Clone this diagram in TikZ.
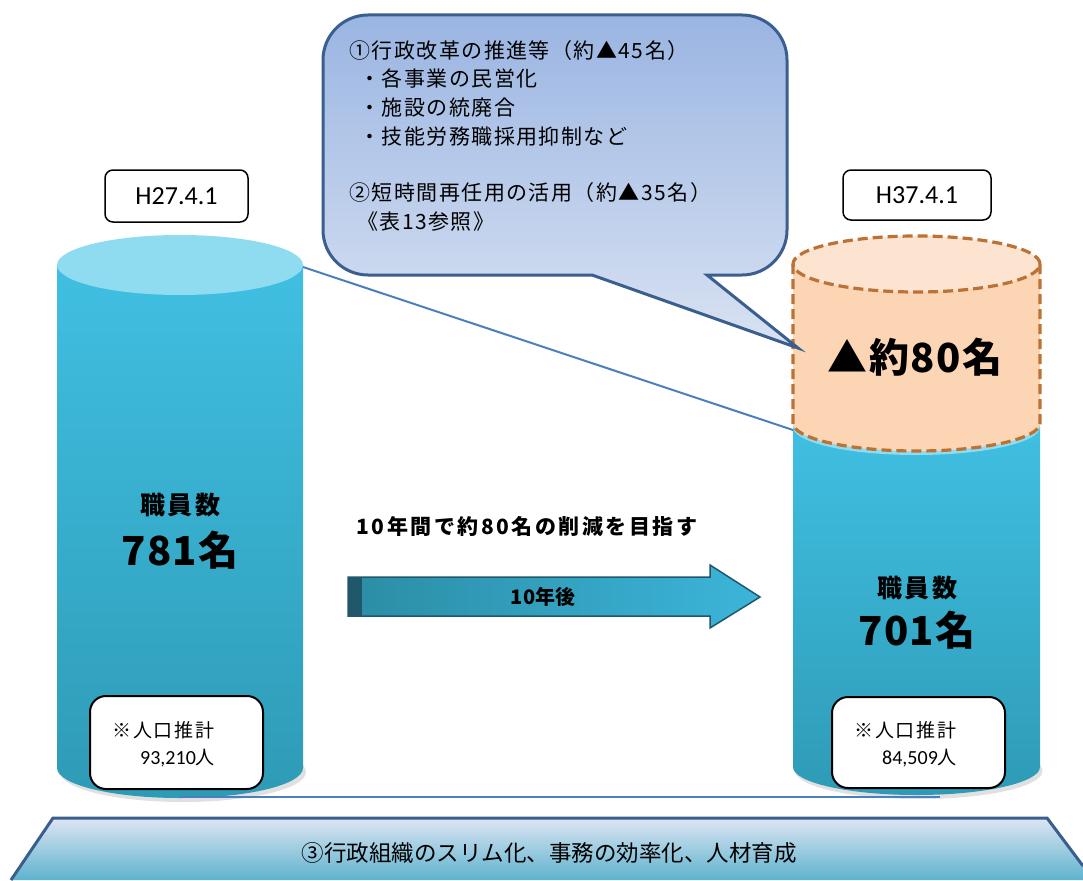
\documentclass[tikz,border=0pt]{standalone}
\usepackage{fontspec}
\setmainfont{Noto Sans CJK JP}
\newfontfamily\lat{Carlito}
\definecolor{cylTop}{HTML}{40BFE2}
\definecolor{cylBot}{HTML}{2E9BB6}
\definecolor{cylCap}{HTML}{8FDCF1}
\definecolor{orBody}{HTML}{FCD5B4}
\definecolor{orCap}{HTML}{FDE4D0}
\definecolor{orLine}{HTML}{BC7234}
\definecolor{cbTop}{HTML}{9AB5E2}
\definecolor{cbBot}{HTML}{D9E2F2}
\definecolor{cbLine}{HTML}{3A5F8E}
\definecolor{trTop}{HTML}{DEE5F3}
\definecolor{trMid}{HTML}{C2CDEA}
\definecolor{trBot}{HTML}{5DB3CE}
\definecolor{arL}{HTML}{2B8DA5}
\definecolor{arR}{HTML}{3CB5DA}
\definecolor{arLine}{HTML}{20576A}
\definecolor{linkc}{HTML}{4B7FBE}
\begin{document}
\begin{tikzpicture}[x=1pt,y=-1pt,
  link/.style={draw=linkc,line width=2pt},
  ctext/.style={anchor=base west,inner sep=0pt,font=\fontsize{21}{24}\selectfont\addfontfeatures{LetterSpace=7}},
  datebox/.style={draw=black,line width=1.5pt,rounded corners=8pt,fill=white,inner sep=0pt,font=\lat\fontsize{26}{30}\selectfont},
  popbox/.style={draw=black,line width=2pt,rounded corners=16pt,fill=white,inner sep=0pt},
  poptext/.style={anchor=base west,inner sep=0pt,font=\fontsize{19}{22}\selectfont\addfontfeatures{LetterSpace=10}},
  btext/.style={anchor=base,inner sep=0pt,font=\bfseries}
]
\useasboundingbox (0,0) rectangle (1083,880);

% ---------- left cylinder ----------
\fill[black!12] (183,772) ellipse[x radius=123pt,y radius=30pt];
\path[top color=cylTop,bottom color=cylBot] (57,265) -- (57,768)
  arc[start angle=180,end angle=360,x radius=123pt,y radius=30pt] -- (303,265) -- cycle;
\fill[cylCap] (180,265) ellipse[x radius=123pt,y radius=30pt];

% ---------- right cylinder ----------
\fill[black!12] (919,771) ellipse[x radius=123.5pt,y radius=28pt];
\path[top color=cylTop,bottom color=cylBot] (793,427) -- (793,767)
  arc[start angle=180,end angle=360,x radius=123.5pt,y radius=28pt] -- (1040,427) -- cycle;
\fill[cylCap] (916.5,427) ellipse[x radius=123.5pt,y radius=28pt];
\fill[orBody] (793,264) -- (793,423)
  arc[start angle=180,end angle=360,x radius=123.5pt,y radius=28pt] -- (1040,264) -- cycle;
\fill[orCap] (916.5,264) ellipse[x radius=123.5pt,y radius=28pt];
\draw[orLine,line width=3.2pt,dash pattern=on 10pt off 5pt] (916.5,264) ellipse[x radius=123.5pt,y radius=28pt];
\draw[orLine,line width=3.2pt,dash pattern=on 10pt off 5pt] (793,264) -- (793,423)
  arc[start angle=180,end angle=360,x radius=123.5pt,y radius=28pt] -- (1040,264);

% ---------- connectors ----------
\coordinate (lc) at (303,267);
\coordinate (rc) at (793,430);
\draw[link] (lc) -- (rc);
\coordinate (lb) at (180,797);
\coordinate (rb) at (940,797);
\draw[link] (lb) -- (rb);

% ---------- callout ----------
\path[top color=cbTop,bottom color=cbBot,draw=cbLine,line width=3pt,line join=miter]
  (368,15) -- (742,15) arc[start angle=90,end angle=0,radius=45pt]
  -- (787,230) arc[start angle=0,end angle=-90,radius=45pt]
  -- (707,275) -- (798,348) -- (592,275)
  -- (368,275) arc[start angle=270,end angle=180,radius=45pt]
  -- (323,60) arc[start angle=180,end angle=90,radius=45pt] -- cycle;
\node[ctext] (c1) at (349,59) {①行政改革の推進等（約▲45名）};
\node[ctext] (c2) at (359,87) {・各事業の民営化};
\node[ctext] (c3) at (359,115) {・施設の統廃合};
\node[ctext] (c4) at (359,144) {・技能労務職採用抑制など};
\node[ctext] (c5) at (349,200) {②短時間再任用の活用（約▲35名）};
\node[ctext] (c6) at (357,229) {《表13参照》};

% ---------- date boxes ----------
\node[datebox,minimum width=143pt,minimum height=52pt] (d1) at (176.5,196) {H27.4.1};
\node[datebox,minimum width=148pt,minimum height=50pt] (d2) at (917,195) {H37.4.1};

% ---------- cylinder texts ----------
\node[btext,font=\bfseries\fontsize{25}{28}\selectfont\addfontfeatures{LetterSpace=10}] (s1) at (180,514) {職員数};
\node[btext,font=\bfseries\fontsize{40}{44}\selectfont\addfontfeatures{LetterSpace=3}] (n1) at (180,565) {781名};
\node[btext,font=\bfseries\fontsize{25}{28}\selectfont\addfontfeatures{LetterSpace=10}] (s2) at (917,597) {職員数};
\node[btext,font=\bfseries\fontsize{40}{44}\selectfont\addfontfeatures{LetterSpace=3}] (n2) at (917,645) {701名};
\node[btext,font=\bfseries\fontsize{40}{44}\selectfont\addfontfeatures{LetterSpace=4}] (cut) at (915,372) {▲約80名};

% ---------- arrow ----------
\path[left color=arL,right color=arR,draw=arLine,line width=1.5pt]
  (348,577) -- (710,577) -- (710,565) -- (760,597) -- (710,628) -- (710,616) -- (348,616) -- cycle;
\fill[arLine] (348,577) rectangle (362,616);
\node[btext,font=\bfseries\fontsize{20}{24}\selectfont] (ar) at (543,604) {10年後};
\node[btext,font=\bfseries\fontsize{21}{24}\selectfont\addfontfeatures{LetterSpace=12}] (goal) at (527,534) {10年間で約80名の削減を目指す};

% ---------- population boxes ----------
\node[popbox,minimum width=173pt,minimum height=93pt] (p1) at (176.5,742.5) {};
\node[poptext] (p1a) at (112,737) {※人口推計};
\node[anchor=base west,inner sep=0pt] (p1b) at (140,764) {{\lat\fontsize{20}{24}\selectfont 93,210}{\fontsize{19}{22}\selectfont 人}};
\node[popbox,minimum width=173pt,minimum height=91pt] (p2) at (918.5,742.5) {};
\node[poptext] (p2a) at (854,737) {※人口推計};
\node[anchor=base west,inner sep=0pt] (p2b) at (882,764) {{\lat\fontsize{20}{24}\selectfont 84,509}{\fontsize{19}{22}\selectfont 人}};

% ---------- bottom band ----------
\path[top color=trTop,middle color=trMid,bottom color=trBot]
  (53,818) -- (1047,818) -- (1083,866) -- (1083,880) -- (11,880) -- cycle;
\draw[cbLine,line width=3pt,line join=miter] (11,880) -- (53,818) -- (1047,818) -- (1083,866);
\node[anchor=base,inner sep=0pt,font=\fontsize{22.5}{26}\selectfont] (band) at (549,861) {③行政組織のスリム化、事務の効率化、人材育成};
\end{tikzpicture}
\end{document}
